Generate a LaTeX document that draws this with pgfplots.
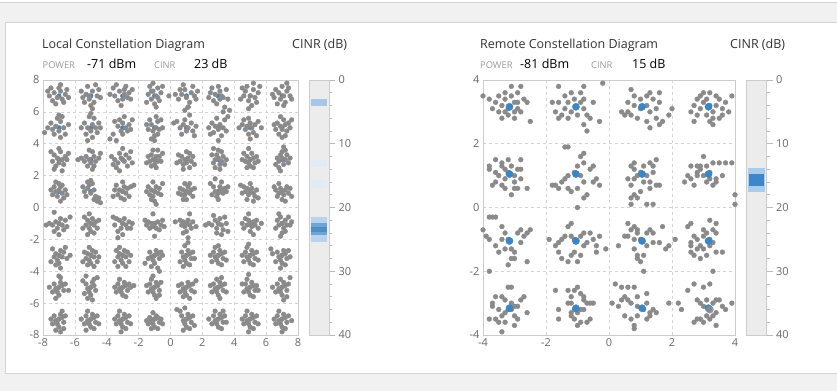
\documentclass[border=0pt]{standalone}
\usepackage{fontspec}
\setmainfont{Open Sans}
\usepackage{pgfplots}
\pgfplotsset{compat=1.18}
\definecolor{bg}{HTML}{F1F1F1}
\definecolor{cardline}{HTML}{D4D4D4}
\definecolor{dotgray}{HTML}{8A8A8A}
\definecolor{dotblue}{HTML}{3A85C5}
\definecolor{gridc}{HTML}{D4D4D4}
\definecolor{framec}{HTML}{CCCCCC}
\definecolor{tickc}{HTML}{BBBBBB}
\definecolor{ticklab}{HTML}{6A6A6A}
\definecolor{barbg}{HTML}{ECECEC}
\definecolor{titlec}{HTML}{333333}
\definecolor{capc}{HTML}{999999}
\definecolor{bandA}{HTML}{A8C7E6}
\definecolor{bandF}{HTML}{E2EBF5}
\definecolor{bandL}{HTML}{B9D3EE}
\definecolor{bandM}{HTML}{6FA4D6}
\definecolor{bandD}{HTML}{4F8DC9}
\definecolor{rbandL}{HTML}{A9CCEE}
\definecolor{rbandD}{HTML}{3E86C8}
\pgfplotsset{
  constell/.style={
    scale only axis, height=255pt, anchor=south west,
    axis line style={draw=framec},
    grid=major, major grid style={draw=gridc, dash pattern=on 3pt off 3pt, line width=0.6pt},
    major tick length=0pt,
    tick label style={font=\fontsize{11}{12}\selectfont, text=ticklab},
  },
  cinrbar/.style={
    scale only axis, width=20pt, height=255pt, anchor=south west,
    xmin=0, xmax=1, ymin=0, ymax=40, y dir=reverse,
    xtick=\empty, ytick={0,10,20,30,40}, yticklabels={0,10,20,30,40},
    minor ytick={2,4,...,38},
    ytick pos=right, tick align=outside,
    major tick length=6pt, minor tick length=3pt,
    tick style={draw=tickc, line width=0.6pt},
    minor tick style={draw=tickc, line width=0.6pt},
    axis line style={draw=framec},
    axis background/.style={fill=barbg},
    tick label style={font=\fontsize{11}{12}\selectfont, text=ticklab},
  },
  gdot/.style={only marks, mark=*, color=dotgray},
  bdot/.style={only marks, mark=*, color=dotblue},
}
\begin{document}
\begin{tikzpicture}
\path[use as bounding box, fill=bg] (0pt,0pt) rectangle (837pt,391pt);
\fill[white] (0pt,388.5pt) rectangle (837pt,391pt);
\draw[cardline, line width=0.8pt] (0pt,388.5pt) -- (837pt,388.5pt);
\filldraw[fill=white, draw=cardline, line width=0.8pt] (5pt,17.7pt) rectangle (840pt,368.3pt);

% titles
\node[anchor=base west, inner sep=0pt, text=titlec, font=\fontsize{12.5}{14}\selectfont] at (42pt,342pt) {Local Constellation Diagram};
\node[anchor=base west, inner sep=0pt, text=titlec, font=\fontsize{12.5}{14}\selectfont] at (292pt,342pt) {CINR (dB)};
\node[anchor=base west, inner sep=0pt, text=capc, font=\fontsize{9.3}{11}\selectfont] at (42.5pt,322.7pt) {POWER};
\node[anchor=base west, inner sep=0pt, text=black, font=\fontsize{12.5}{14}\selectfont] at (87pt,322.7pt) {-71 dBm};
\node[anchor=base west, inner sep=0pt, text=capc, font=\fontsize{9.3}{11}\selectfont] at (154pt,322.7pt) {CINR};
\node[anchor=base west, inner sep=0pt, text=black, font=\fontsize{12.5}{14}\selectfont] at (194pt,322.7pt) {23 dB};

\node[anchor=base west, inner sep=0pt, text=titlec, font=\fontsize{12.5}{14}\selectfont] at (480pt,342pt) {Remote Constellation Diagram};
\node[anchor=base west, inner sep=0pt, text=titlec, font=\fontsize{12.5}{14}\selectfont] at (730pt,342pt) {CINR (dB)};
\node[anchor=base west, inner sep=0pt, text=capc, font=\fontsize{9.3}{11}\selectfont] at (480pt,322.7pt) {POWER};
\node[anchor=base west, inner sep=0pt, text=black, font=\fontsize{12.5}{14}\selectfont] at (520pt,322.7pt) {-81 dBm};
\node[anchor=base west, inner sep=0pt, text=capc, font=\fontsize{9.3}{11}\selectfont] at (591pt,322.7pt) {CINR};
\node[anchor=base west, inner sep=0pt, text=black, font=\fontsize{12.5}{14}\selectfont] at (632pt,322.7pt) {15 dB};

% ---------------- Local constellation
\begin{axis}[constell, at={(43pt,56pt)}, width=255pt,
  xmin=-8, xmax=8, ymin=-8, ymax=8,
  xtick={-8,-6,-4,-2,0,2,4,6,8}, ytick={-8,-6,-4,-2,0,2,4,6,8},
  xticklabels={-8,-6,-4,-2,0,2,4,6,8}, yticklabels={-8,-6,-4,-2,0,2,4,6,8}]
\addplot[bdot, mark size=2.3pt] coordinates {
(-7,7)(-5,7)(-3,7)(-1,7)(1,7)(3,7)(5,7)(7,7)
(-7,5)(-5,5)(-3,5)(-1,5)(1,5)(3,5)(5,5)(7,5)
(-7,3)(-5,3)(-3,3)(-1,3)(1,3)(3,3)(5,3)(7,3)
(-7,1)(-5,1)(-3,1)(-1,1)(1,1)(3,1)(5,1)(7,1)
(-7,-1)(-5,-1)(-3,-1)(-1,-1)(1,-1)(3,-1)(5,-1)(7,-1)
(-7,-3)(-5,-3)(-3,-3)(-1,-3)(1,-3)(3,-3)(5,-3)(7,-3)
(-7,-5)(-5,-5)(-3,-5)(-1,-5)(1,-5)(3,-5)(5,-5)(7,-5)
(-7,-7)(-5,-7)(-3,-7)(-1,-7)(1,-7)(3,-7)(5,-7)(7,-7)
};
\addplot[gdot, mark size=2.35pt] coordinates {
(-7.6,7.0)(-7.3,7.2)(-7.1,6.9)(-6.9,7.3)(-6.6,7.1)(-7.4,6.7)(-6.8,6.8)(-7.0,7.5)(-6.5,7.4)(-7.7,7.3)(-7.2,6.5)(-6.4,6.9)(-6.9,7.7)(-7.5,7.5)(-6.7,6.6)
(-5.3,7.1)(-4.9,7.3)(-5.1,6.8)(-4.6,7.0)(-5.5,6.9)(-4.8,6.6)(-5.2,7.6)(-4.5,7.4)(-5.6,7.3)(-5.0,6.4)(-4.7,7.7)(-5.4,6.6)(-4.4,6.9)(-5.1,7.0)(-4.9,6.2)
(-3.5,7.0)(-3.2,7.3)(-2.9,7.1)(-3.0,6.8)(-2.6,7.2)(-3.6,7.5)(-2.7,6.9)(-3.3,6.7)(-2.4,7.4)(-3.8,7.1)(-2.8,7.6)(-3.1,6.4)(-2.5,6.8)(-3.4,7.7)(-2.9,7.4)
(-1.1,7.3)(-0.9,7.0)(-1.2,6.8)(-0.8,7.5)(-1.0,6.5)(-1.3,7.6)(-0.6,7.2)(-1.4,7.1)(-0.7,6.7)(-1.1,7.8)(-0.9,6.3)(-1.5,6.6)(-0.5,7.6)(-1.2,7.3)(-0.8,6.9)
(0.7,7.1)(1.0,6.9)(1.3,7.2)(0.9,7.4)(1.5,7.0)(0.5,6.8)(1.2,6.6)(0.3,7.1)(1.7,7.3)(0.8,7.7)(1.1,6.3)(0.6,7.4)(1.4,7.6)(-0.1,7.0)(1.6,6.8)
(2.8,7.1)(3.1,7.3)(3.3,6.9)(2.7,6.7)(3.5,7.4)(2.5,7.2)(3.0,7.6)(3.6,6.8)(2.9,6.5)(3.2,7.0)(2.4,6.9)(3.4,6.3)(3.7,6.1)(2.6,7.5)(3.1,6.8)
(4.7,7.3)(5.0,7.0)(5.2,7.4)(4.9,6.7)(5.3,6.9)(4.6,7.0)(5.5,7.2)(4.8,7.6)(5.1,6.4)(4.5,7.5)(5.4,6.6)(5.6,7.6)(4.9,6.2)(5.2,7.8)(4.4,6.8)
(6.8,7.2)(7.1,7.0)(7.3,7.3)(6.9,6.8)(7.2,6.6)(6.6,7.4)(7.5,7.0)(7.0,7.6)(6.7,6.5)(7.4,7.5)(6.4,7.1)(7.6,6.8)(7.1,6.4)(6.5,6.9)(7.3,7.8)
(-7.2,5.1)(-6.9,5.4)(-7.0,4.8)(-6.7,5.0)(-7.3,4.6)(-6.8,5.7)(-7.5,5.3)(-6.6,4.6)(-7.1,5.6)(-6.9,4.4)(-7.7,5.0)(-6.4,5.2)(-7.4,4.9)(-7.9,4.7)(-7.0,5.8)
(-5.2,5.0)(-4.9,5.2)(-5.0,4.8)(-4.7,5.0)(-5.4,5.3)(-4.8,5.6)(-5.3,4.6)(-4.6,4.7)(-5.1,5.7)(-4.5,5.3)(-5.6,5.0)(-4.9,4.4)(-5.2,4.2)(-5.0,5.9)(-4.4,5.0)
(-3.3,5.1)(-3.0,5.3)(-2.8,5.0)(-3.1,4.8)(-2.6,5.2)(-3.5,5.4)(-2.7,4.8)(-3.2,5.5)(-2.5,4.9)(-3.6,4.6)(-3.8,4.3)(-3.4,4.2)(-2.4,5.5)(-3.0,4.6)(-2.9,5.7)
(-1.2,5.2)(-0.9,5.0)(-1.1,4.8)(-0.8,5.4)(-1.3,5.5)(-0.7,4.9)(-1.0,4.5)(-1.4,4.9)(-0.6,5.5)(-1.2,4.3)(-0.9,5.7)(-1.5,5.2)(-0.5,5.0)(-1.0,4.2)(-0.8,4.6)
(0.8,5.2)(1.1,5.0)(1.0,4.8)(1.3,5.3)(0.6,5.0)(1.4,4.8)(0.9,5.5)(0.4,5.4)(1.6,5.1)(0.7,4.6)(1.2,5.8)(0.2,5.3)(1.5,4.5)(0.9,6.1)(1.1,6.3)
(2.8,5.1)(3.1,5.2)(3.0,4.9)(3.3,5.0)(2.6,5.3)(3.4,5.5)(2.7,4.7)(3.5,4.8)(2.9,5.6)(3.2,4.5)(2.4,5.0)(3.6,5.7)(3.0,4.2)(3.3,6.0)(2.5,4.6)
(4.8,5.1)(5.1,5.0)(5.0,5.3)(4.7,4.9)(5.3,5.2)(4.5,5.2)(5.2,4.7)(4.9,5.6)(5.5,5.4)(4.3,5.0)(5.4,4.5)(5.0,4.3)(4.6,5.5)(5.7,5.0)(4.9,4.6)
(6.9,5.1)(7.2,5.2)(7.0,4.9)(6.7,5.3)(7.3,4.8)(6.6,4.9)(7.1,5.5)(7.4,5.3)(6.8,4.6)(7.5,5.0)(6.5,5.2)(7.2,4.5)(6.9,5.7)(7.6,5.5)(7.0,4.4)
(-7.1,3.1)(-6.8,3.0)(-7.0,2.8)(-7.3,3.3)(-6.9,3.5)(-6.6,3.2)(-7.2,2.6)(-6.7,2.7)(-7.4,2.9)(-6.5,3.0)(-7.0,3.7)(-7.3,2.4)(-6.8,2.3)(-6.4,3.4)(-7.5,3.5)
(-5.1,3.0)(-4.8,3.2)(-5.0,2.8)(-5.3,3.2)(-4.7,2.9)(-5.4,2.9)(-4.9,3.5)(-5.2,2.6)(-4.5,3.1)(-5.6,3.1)(-4.8,2.6)(-5.1,3.6)(-4.4,3.4)(-5.8,3.0)(-4.9,2.4)
(-3.1,3.1)(-2.9,2.9)(-3.3,2.8)(-2.8,3.3)(-3.2,3.4)(-3.5,3.0)(-2.6,3.1)(-3.6,2.7)(-3.0,3.7)(-2.7,2.6)(-3.4,2.5)(-2.5,3.5)(-3.7,3.2)(-2.4,2.8)(-3.2,2.3)
(-1.1,3.0)(-0.9,3.2)(-1.2,3.3)(-0.8,2.9)(-1.0,2.7)(-1.3,2.9)(-0.7,3.2)(-1.1,3.6)(-0.6,2.9)(-1.4,3.2)(-0.9,2.5)(-1.2,2.6)(-0.5,3.4)(-0.8,3.6)(-1.5,2.8)
(0.9,3.0)(1.1,3.1)(1.0,2.8)(0.7,3.2)(1.3,2.9)(0.8,2.7)(1.2,3.4)(0.6,2.9)(1.4,3.2)(1.0,3.5)(0.5,3.3)(1.5,2.7)(0.8,2.4)(1.2,2.5)(0.4,2.8)
(3.0,3.1)(2.8,3.0)(3.2,2.9)(2.9,3.3)(3.1,2.7)(2.7,2.8)(3.3,3.2)(3.0,3.6)(2.6,3.3)(3.4,2.7)(3.2,3.5)(2.8,2.5)(3.5,3.0)(2.7,3.7)(3.1,2.4)
(5.0,3.0)(4.8,3.2)(5.2,3.1)(4.9,2.8)(5.1,3.4)(4.7,2.9)(5.3,2.8)(4.6,3.4)(5.0,2.6)(5.4,3.2)(4.5,3.0)(5.2,2.5)(4.8,2.5)(5.5,2.9)(4.9,3.7)
(7.0,3.1)(6.8,2.9)(7.2,3.0)(6.9,3.3)(7.1,2.7)(7.3,3.3)(6.7,3.1)(7.0,3.5)(6.6,2.7)(7.4,2.8)(6.8,2.5)(7.2,3.6)(6.9,2.3)(7.5,3.1)(7.1,3.8)
(-7.0,1.1)(-6.8,0.9)(-7.2,1.0)(-6.9,1.3)(-7.1,0.7)(-7.3,1.3)(-6.6,1.1)(-7.0,1.5)(-6.7,0.6)(-7.4,0.8)(-6.9,0.4)(-7.2,1.6)(-6.5,0.8)(-7.5,1.1)(-6.8,1.4)
(-5.2,1.2)(-5.0,0.9)(-4.8,1.1)(-5.3,0.7)(-4.9,1.5)(-5.4,1.0)(-4.7,0.7)(-5.1,1.4)(-4.6,0.4)(-5.5,1.3)(-4.8,0.5)(-4.5,0.6)(-5.0,1.7)(-4.4,0.3)(-5.2,1.6)
(-3.0,1.0)(-2.8,0.9)(-3.2,1.1)(-2.9,1.3)(-3.3,0.8)(-2.7,1.2)(-3.1,0.6)(-3.5,1.1)(-2.6,0.7)(-3.4,1.4)(-2.9,0.5)(-2.5,1.3)(-3.6,0.7)(-2.3,1.4)(-3.0,1.6)
(-1.0,1.0)(-1.2,1.1)(-0.8,0.9)(-1.1,0.7)(-0.9,1.3)(-1.3,0.8)(-0.7,1.2)(-1.0,0.4)(-1.4,1.3)(-0.6,0.8)(-1.1,1.6)(-1.5,1.0)(-0.9,0.2)(-0.5,1.5)(-1.2,0.5)
(1.0,1.0)(0.8,1.1)(1.2,0.9)(0.9,0.8)(1.1,1.3)(0.7,0.8)(1.3,1.1)(0.9,1.5)(1.4,0.7)(0.6,1.2)(1.0,0.5)(1.2,1.5)(0.5,0.9)(1.5,1.2)(0.8,0.5)
(3.0,0.9)(2.8,1.0)(3.2,1.1)(2.9,0.7)(3.3,0.9)(2.7,1.3)(3.1,1.3)(3.4,1.2)(2.6,0.8)(3.5,1.0)(3.0,0.5)(2.5,1.5)(3.2,1.6)(2.8,1.8)(3.6,1.3)
(5.0,1.0)(4.8,1.2)(5.2,0.9)(4.9,0.8)(5.1,1.2)(4.7,1.0)(5.3,0.7)(4.6,1.3)(5.4,1.1)(4.8,0.5)(5.0,1.5)(4.5,0.9)(5.2,0.4)(5.5,0.6)(4.4,1.4)
(7.0,1.0)(6.8,0.9)(7.2,1.1)(6.9,1.2)(7.1,0.8)(6.6,1.1)(7.3,1.3)(6.7,0.7)(7.4,0.9)(7.0,0.5)(6.5,1.3)(7.5,1.2)(6.8,1.5)(7.2,0.4)(7.6,0.7)
(-7.0,-1.0)(-7.2,-0.9)(-6.8,-1.1)(-7.1,-1.3)(-6.9,-0.7)(-7.4,-1.1)(-6.6,-0.8)(-7.3,-1.5)(-6.7,-1.4)(-7.6,-1.0)(-6.5,-1.2)(-7.0,-1.7)(-7.8,-1.1)(-7.3,-0.3)(-6.3,-0.6)
(-5.0,-1.0)(-5.2,-0.8)(-4.8,-1.1)(-5.1,-1.3)(-4.9,-0.7)(-5.3,-1.1)(-4.7,-0.9)(-5.0,-1.5)(-5.4,-0.6)(-4.6,-1.3)(-5.2,-1.7)(-4.8,-1.6)(-5.5,-1.3)(-4.5,-0.8)(-5.1,-0.4)
(-3.0,-1.0)(-3.2,-0.8)(-2.8,-1.1)(-3.1,-1.3)(-2.9,-0.7)(-3.4,-0.7)(-2.7,-1.3)(-3.3,-1.5)(-2.6,-0.9)(-3.5,-1.1)(-2.5,-1.3)(-3.0,-1.7)(-3.3,-1.9)(-2.4,-1.0)(-3.6,-0.6)
(-1.0,-1.0)(-1.2,-1.0)(-0.8,-0.9)(-1.1,-1.2)(-0.9,-1.3)(-1.4,-0.9)(-0.6,-1.1)(-1.3,-1.3)(-0.7,-1.4)(-1.5,-1.1)(-0.5,-0.8)(-1.1,-0.4)(-1.6,-0.8)(-0.4,-1.2)(-1.0,-1.8)
(1.0,-1.0)(0.8,-0.9)(1.2,-1.1)(0.9,-1.2)(1.1,-0.8)(0.7,-1.1)(1.3,-1.3)(0.6,-0.8)(1.0,-1.5)(1.4,-0.9)(0.8,-1.6)(1.2,-0.4)(0.3,-0.9)(1.6,-1.2)(1.1,-1.9)
(3.0,-1.0)(2.8,-0.8)(3.2,-1.1)(2.9,-1.3)(3.1,-0.7)(2.6,-1.1)(3.3,-1.4)(2.7,-0.5)(3.5,-1.0)(2.4,-1.0)(3.2,-1.7)(2.2,-1.1)(3.6,-1.5)(2.9,-1.6)(3.4,-0.6)
(5.0,-1.0)(4.8,-1.1)(5.2,-0.9)(4.9,-0.8)(5.1,-1.2)(4.7,-0.7)(5.3,-1.1)(4.6,-1.3)(5.4,-0.8)(5.0,-1.5)(4.5,-1.0)(5.5,-1.3)(4.9,-0.4)(5.2,-1.7)(5.7,-1.0)
(7.0,-1.0)(7.2,-0.8)(6.8,-1.1)(7.1,-1.3)(6.9,-0.6)(7.3,-1.1)(6.7,-0.8)(7.0,-1.6)(7.4,-0.6)(6.6,-1.3)(7.5,-1.1)(6.8,-0.4)(7.2,-1.5)(7.6,-0.9)(6.9,-1.8)
(-7.0,-3.0)(-7.2,-2.9)(-6.8,-3.1)(-7.1,-3.3)(-6.9,-2.7)(-7.3,-3.1)(-6.7,-2.8)(-7.0,-3.5)(-7.4,-2.6)(-6.5,-3.2)(-7.2,-3.6)(-6.6,-2.5)(-7.5,-3.4)(-6.3,-3.0)(-6.9,-3.8)
(-5.0,-3.0)(-5.2,-2.9)(-4.8,-3.1)(-5.1,-3.3)(-4.9,-2.7)(-5.3,-3.2)(-4.7,-2.8)(-5.0,-3.5)(-5.4,-2.8)(-4.6,-3.4)(-5.2,-3.6)(-4.5,-3.1)(-5.5,-3.4)(-4.8,-3.7)(-5.1,-2.5)
(-3.0,-3.0)(-3.2,-2.9)(-2.8,-3.1)(-3.1,-3.3)(-2.9,-2.7)(-3.3,-3.1)(-2.7,-2.8)(-3.0,-3.5)(-3.4,-2.7)(-2.6,-3.4)(-3.2,-2.5)(-2.5,-3.0)(-3.5,-3.4)(-2.8,-3.7)(-3.3,-3.7)
(-1.0,-3.0)(-1.2,-3.1)(-0.8,-2.9)(-1.1,-3.3)(-0.9,-2.7)(-1.3,-2.8)(-0.7,-3.2)(-1.0,-3.5)(-1.4,-3.2)(-0.6,-2.8)(-1.2,-3.7)(-0.5,-3.0)(-1.6,-3.5)(-0.8,-3.8)(-0.7,-4.0)
(1.0,-3.0)(0.8,-3.1)(1.2,-2.9)(0.9,-3.3)(1.1,-2.7)(0.7,-2.8)(1.3,-3.2)(1.0,-3.5)(0.9,-2.4)(1.4,-2.8)(0.6,-3.4)(1.2,-3.6)(1.5,-3.2)(0.8,-3.7)(1.1,-2.2)
(3.0,-3.0)(2.8,-3.1)(3.2,-2.9)(2.9,-3.3)(3.1,-2.7)(2.7,-2.8)(3.3,-3.2)(3.0,-3.5)(2.6,-3.4)(3.4,-2.8)(2.8,-2.5)(3.2,-3.6)(2.5,-3.0)(3.5,-3.3)(3.0,-2.4)
(5.0,-3.0)(4.8,-3.1)(5.2,-2.9)(4.9,-3.3)(5.1,-2.7)(4.7,-2.8)(5.3,-3.2)(5.0,-3.5)(4.6,-3.4)(5.4,-2.8)(4.8,-2.5)(5.2,-3.6)(4.5,-3.0)(5.5,-3.3)(4.9,-2.3)
(7.0,-3.0)(6.8,-3.1)(7.2,-2.9)(6.9,-3.3)(7.1,-2.7)(6.7,-2.8)(7.3,-3.2)(7.0,-3.5)(6.6,-3.4)(7.4,-2.7)(6.4,-2.9)(7.2,-3.6)(6.3,-2.6)(7.5,-3.1)(6.9,-3.8)
(-7.0,-5.0)(-7.2,-5.1)(-6.8,-4.9)(-7.1,-5.3)(-6.9,-4.7)(-7.3,-4.8)(-6.7,-5.2)(-7.0,-5.5)(-7.4,-5.3)(-6.6,-4.8)(-6.4,-5.2)(-7.2,-5.7)(-6.9,-4.4)(-7.6,-5.0)(-7.0,-4.3)
(-5.0,-5.0)(-5.2,-5.1)(-4.8,-4.9)(-5.1,-5.3)(-4.9,-4.7)(-5.3,-4.8)(-4.7,-5.2)(-5.0,-5.5)(-5.4,-5.4)(-4.8,-4.5)(-5.2,-5.7)(-4.6,-4.4)(-5.5,-4.6)(-4.9,-5.8)(-5.3,-4.3)
(-3.0,-5.0)(-3.2,-5.1)(-2.8,-4.9)(-3.1,-5.3)(-2.9,-4.7)(-3.3,-4.8)(-2.7,-5.2)(-3.0,-5.5)(-3.4,-5.3)(-2.6,-4.8)(-3.2,-4.5)(-2.5,-5.0)(-3.5,-5.0)(-2.8,-5.6)(-2.3,-4.9)
(-1.0,-5.0)(-1.2,-5.1)(-0.8,-4.9)(-1.1,-5.3)(-0.9,-4.7)(-1.3,-4.8)(-0.7,-5.2)(-1.0,-5.5)(-1.4,-5.3)(-0.6,-4.7)(-1.2,-4.5)(-0.9,-5.7)(-1.5,-4.9)(-0.7,-5.5)(-1.1,-4.3)
(1.0,-5.0)(0.8,-5.1)(1.2,-4.9)(0.9,-5.3)(1.1,-4.7)(0.7,-4.8)(1.3,-5.2)(1.0,-5.5)(0.6,-5.3)(1.4,-4.8)(0.8,-5.6)(1.5,-5.3)(0.5,-4.9)(1.2,-5.7)(1.6,-4.6)
(3.0,-5.0)(2.8,-5.1)(3.2,-4.9)(2.9,-5.3)(3.1,-4.7)(2.7,-4.8)(3.3,-5.2)(3.0,-5.5)(2.6,-5.3)(3.4,-4.8)(2.9,-4.5)(3.2,-4.4)(2.5,-4.9)(3.5,-5.3)(3.1,-5.7)
(5.0,-5.0)(4.8,-5.1)(5.2,-4.9)(4.9,-5.3)(5.1,-4.7)(4.7,-4.8)(5.3,-5.2)(5.0,-5.5)(4.6,-5.3)(5.4,-4.9)(4.8,-4.5)(5.2,-5.6)(4.5,-4.8)(5.5,-5.2)(4.9,-4.2)
(7.0,-5.0)(6.8,-5.1)(7.2,-4.9)(6.9,-5.3)(7.1,-4.7)(6.7,-4.8)(7.3,-5.2)(7.0,-5.5)(6.6,-5.3)(7.4,-4.8)(6.9,-4.5)(7.3,-5.6)(6.4,-5.0)(7.5,-4.4)(7.1,-5.8)
(-7.0,-7.0)(-7.2,-7.1)(-6.8,-6.9)(-7.1,-7.3)(-6.9,-6.7)(-7.3,-6.8)(-6.7,-7.2)(-7.0,-7.5)(-7.4,-7.3)(-6.6,-6.8)(-7.2,-7.7)(-6.8,-6.5)(-7.5,-7.0)(-6.9,-7.8)(-6.7,-7.6)
(-5.0,-7.0)(-5.2,-7.1)(-4.8,-6.9)(-5.1,-7.3)(-4.9,-6.7)(-5.3,-6.8)(-4.7,-7.2)(-5.0,-7.5)(-5.4,-7.3)(-4.6,-6.8)(-5.2,-6.5)(-4.8,-7.6)(-5.6,-7.0)(-4.5,-7.3)(-5.3,-7.7)
(-3.0,-7.0)(-3.2,-7.1)(-2.8,-6.9)(-3.1,-7.3)(-2.9,-6.7)(-3.3,-6.8)(-2.7,-7.2)(-3.0,-7.5)(-3.4,-7.3)(-2.6,-6.8)(-3.2,-6.5)(-2.8,-7.6)(-3.5,-7.0)(-2.5,-7.3)(-3.1,-7.8)
(-1.0,-7.0)(-1.2,-7.1)(-0.8,-6.9)(-1.1,-7.3)(-0.9,-6.8)(-1.3,-6.9)(-0.7,-7.2)(-1.0,-7.5)(-1.4,-7.3)(-0.6,-7.0)(-1.2,-7.6)(-0.8,-7.6)(-1.5,-7.1)(-0.5,-7.3)(-1.1,-6.6)
(1.0,-7.0)(0.8,-7.1)(1.2,-6.9)(0.9,-7.3)(1.1,-6.7)(0.7,-6.8)(1.3,-7.2)(1.0,-7.5)(0.6,-6.5)(1.4,-6.8)(0.8,-7.7)(1.2,-7.6)(0.4,-6.4)(1.5,-7.4)(0.9,-6.3)
(3.0,-7.0)(2.8,-7.1)(3.2,-6.9)(2.9,-7.3)(3.1,-6.7)(2.7,-6.8)(3.3,-7.2)(3.0,-7.5)(2.6,-7.3)(3.4,-6.8)(2.8,-6.5)(3.2,-7.6)(2.4,-7.0)(3.5,-7.2)(3.3,-6.5)
(5.0,-7.0)(4.8,-7.1)(5.2,-6.9)(4.9,-7.3)(5.1,-6.7)(4.7,-6.8)(5.3,-7.2)(5.0,-7.5)(4.6,-7.3)(5.4,-6.8)(4.8,-6.5)(5.2,-7.6)(4.5,-7.0)(5.5,-7.3)(4.9,-7.8)
(7.0,-7.0)(6.8,-7.1)(7.2,-6.9)(6.9,-7.3)(7.1,-6.7)(6.7,-6.8)(7.3,-7.2)(7.0,-7.5)(6.6,-7.3)(7.4,-6.8)(6.8,-6.5)(7.2,-7.6)(6.5,-7.0)(7.6,-7.1)(7.0,-7.8)
};
\end{axis}

% ---------------- Local CINR bar
\begin{axis}[cinrbar, at={(309pt,56pt)}]
\addplot[fill=bandA, draw=none] coordinates {(0.08,3.0)(0.92,3.0)(0.92,4.0)(0.08,4.0)} -- cycle;
\addplot[fill=bandF, draw=none] coordinates {(0.08,12.5)(0.92,12.5)(0.92,13.6)(0.08,13.6)} -- cycle;
\addplot[fill=bandF, draw=none] coordinates {(0.08,15.7)(0.92,15.7)(0.92,17.0)(0.08,17.0)} -- cycle;
\addplot[fill=bandL, draw=none] coordinates {(0.08,21.5)(0.92,21.5)(0.92,25.4)(0.08,25.4)} -- cycle;
\addplot[fill=bandM, draw=none] coordinates {(0.08,22.4)(0.92,22.4)(0.92,24.3)(0.08,24.3)} -- cycle;
\addplot[fill=bandD, draw=none] coordinates {(0.08,23.0)(0.92,23.0)(0.92,23.8)(0.08,23.8)} -- cycle;
\end{axis}

% ---------------- Remote constellation
\begin{axis}[constell, at={(483pt,56pt)}, width=252pt,
  xmin=-4, xmax=4, ymin=-4, ymax=4,
  xtick={-4,-2,0,2,4}, ytick={-4,-2,0,2,4},
  xticklabels={-4,-2,0,2,4}, yticklabels={-4,-2,0,2,4}]
\addplot[gdot, mark size=2.4pt] coordinates {
(-3.3,3.4)(-3.1,3.5)(-2.9,3.3)(-3.4,3.2)(-3.5,3.0)(-3.0,3.0)(-2.8,3.0)(-3.2,2.9)(-3.4,2.8)(-3.6,3.3)(-3.1,3.8)(-2.9,3.6)(-2.7,3.4)(-2.6,3.3)(-3.0,2.8)(-3.3,3.6)(-3.7,3.1)(-2.5,2.7)(-3.2,3.1)(-2.9,3.1)(-4.0,3.5)(-3.5,3.5)(-2.8,3.8)(-3.0,3.3)(-3.3,3.0)(-3.8,3.4)
(-1.3,3.3)(-1.1,3.4)(-0.9,3.3)(-1.4,3.1)(-1.6,3.3)(-1.7,3.0)(-1.5,2.9)(-1.2,3.0)(-0.8,3.1)(-0.7,2.9)(-1.0,2.9)(-1.3,2.8)(-1.6,2.8)(-1.8,3.3)(-0.9,3.6)(-0.8,3.4)(-1.2,3.6)(-1.4,3.5)(-0.5,3.3)(-0.6,2.8)(-0.8,2.6)(-0.7,2.4)(-0.3,2.7)(-0.2,3.9)(-1.6,3.8)(-0.8,3.8)
(1.0,3.1)(1.2,3.2)(0.8,3.2)(0.6,3.0)(0.4,3.0)(0.5,2.9)(0.7,2.9)(1.3,3.0)(1.5,3.1)(1.6,3.3)(1.4,3.4)(1.2,3.5)(1.0,3.4)(0.8,3.5)(0.7,3.7)(1.3,3.6)(1.6,3.6)(1.5,2.8)(1.2,2.7)(1.3,2.5)(1.7,2.7)(1.6,2.6)(0.9,2.8)(1.9,2.9)(2.0,3.1)(0.6,3.3)
(3.2,3.2)(3.0,3.3)(3.4,3.2)(2.9,3.1)(3.1,2.9)(3.3,3.0)(3.6,3.1)(2.7,3.2)(2.8,2.9)(3.2,2.7)(3.3,2.6)(3.5,3.4)(3.7,3.3)(3.8,3.0)(3.9,3.5)(2.9,3.5)(3.0,3.6)(3.2,3.6)(2.6,3.0)(2.7,2.7)(3.5,2.8)(3.1,3.4)(3.6,2.9)(3.4,3.5)(2.8,3.4)(3.3,2.8)
(-3.2,1.1)(-3.0,1.0)(-3.3,0.9)(-3.4,1.3)(-3.1,1.3)(-2.9,1.2)(-3.5,1.0)(-3.6,0.8)(-3.7,0.7)(-3.3,0.6)(-3.0,0.6)(-2.9,0.6)(-3.1,0.4)(-2.8,0.9)(-2.8,1.5)(-3.2,1.5)(-3.6,1.5)(-3.8,1.3)(-3.8,1.2)(-2.6,0.6)(-3.4,1.4)(-3.0,0.8)(-3.6,1.1)(-3.3,1.2)(-2.8,1.2)(-3.4,0.7)
(-1.1,1.1)(-0.9,1.0)(-1.3,1.0)(-1.4,0.9)(-1.5,0.8)(-1.6,0.6)(-1.8,0.7)(-1.7,0.7)(-1.2,0.5)(-1.0,0.6)(-0.8,0.8)(-0.8,1.4)(-0.9,1.6)(-0.8,1.7)(-1.0,1.3)(-0.6,1.2)(-0.5,1.3)(-0.5,0.8)(-0.4,0.9)(-0.3,0.7)(-0.7,0.4)(-0.8,0.3)(-1.0,0.0)(-1.3,0.6)(-1.4,1.9)(-1.3,1.9)
(1.0,1.1)(0.8,1.2)(0.7,1.3)(0.8,1.4)(1.1,1.3)(1.3,1.4)(1.4,1.3)(1.5,1.5)(1.4,1.1)(1.2,1.0)(0.9,1.0)(0.8,0.9)(0.6,0.9)(0.7,0.7)(1.1,0.8)(1.3,0.8)(1.5,0.7)(1.6,0.7)(1.3,0.6)(1.0,0.5)(0.8,0.4)(0.7,0.3)(0.9,0.3)(1.2,0.1)(1.4,0.1)(0.7,0.1)
(3.2,1.1)(3.0,1.0)(2.8,1.0)(2.6,0.9)(2.5,1.0)(2.4,0.8)(2.7,0.7)(2.9,1.2)(3.1,1.3)(2.8,1.3)(3.3,1.4)(3.5,1.4)(3.7,1.4)(3.0,1.6)(3.4,0.9)(3.6,1.0)(3.1,0.8)(3.3,0.7)(3.4,0.8)(3.9,1.4)(4.0,0.4)(4.0,0.1)(2.9,1.3)(2.6,1.3)(3.2,0.9)(2.8,1.1)
(-3.2,-1.0)(-3.3,-0.8)(-3.4,-0.6)(-3.6,-0.3)(-3.8,-0.3)(-3.7,-0.3)(-3.9,-0.9)(-3.8,-1.0)(-3.6,-1.2)(-3.5,-1.4)(-3.3,-1.3)(-3.1,-1.3)(-3.0,-1.4)(-3.1,-1.6)(-3.2,-1.8)(-3.0,-1.6)(-2.9,-0.8)(-2.8,-0.7)(-2.7,-0.9)(-2.6,-0.8)(-2.8,-1.1)(-2.5,-0.7)(-2.6,-1.7)(-4.0,-0.7)(-3.8,-2.0)(-3.4,-1.0)
(-1.1,-1.0)(-0.9,-0.9)(-0.8,-0.8)(-1.2,-0.9)(-1.4,-0.9)(-1.5,-1.0)(-1.6,-1.1)(-1.7,-1.2)(-1.6,-1.4)(-1.5,-1.6)(-1.3,-1.7)(-1.2,-1.5)(-1.1,-1.4)(-0.9,-1.5)(-0.8,-1.2)(-0.7,-1.1)(-0.5,-1.0)(-0.4,-1.2)(-0.6,-0.8)(-0.3,-0.9)(-1.2,-0.5)(-1.3,-0.6)(-1.0,-1.7)(-1.9,-1.0)(-0.4,-1.4)(-0.1,-1.3)
(1.0,-1.0)(0.8,-1.0)(0.6,-0.9)(0.5,-0.9)(0.7,-0.7)(0.9,-0.8)(1.2,-0.8)(1.4,-0.8)(1.7,-0.6)(1.4,-1.1)(1.6,-1.1)(1.8,-1.3)(1.9,-1.2)(1.2,-1.2)(1.1,-1.5)(0.9,-1.5)(0.9,-1.6)(1.0,-1.7)(1.1,-2.0)(0.8,-1.3)(0.6,-0.5)(0.8,-0.6)(0.3,-1.2)(2.1,-1.0)(1.3,-0.7)(0.9,-0.7)
(3.2,-1.0)(3.0,-0.9)(3.1,-0.8)(3.3,-0.7)(3.4,-0.5)(3.2,-0.4)(2.8,-1.0)(2.7,-0.9)(2.6,-1.1)(2.9,-1.2)(3.0,-1.3)(3.2,-1.2)(3.3,-1.1)(3.4,-1.4)(3.6,-1.4)(3.1,-1.5)(2.9,-1.6)(2.8,-1.3)(2.6,-1.4)(2.5,-0.6)(2.6,-0.5)(2.6,-1.2)(3.3,-2.0)(2.7,-1.5)(3.0,-0.7)(3.4,-0.8)
(-3.2,-3.2)(-3.0,-3.1)(-3.1,-3.0)(-3.3,-2.9)(-3.4,-2.8)(-3.6,-2.8)(-3.7,-3.0)(-3.5,-3.2)(-3.4,-3.4)(-3.6,-3.5)(-3.8,-3.5)(-3.3,-3.3)(-3.0,-3.4)(-2.9,-3.1)(-2.8,-2.9)(-2.7,-2.8)(-3.1,-2.5)(-3.2,-2.5)(-2.9,-3.5)(-3.0,-3.7)(-3.5,-3.6)(-3.4,-3.9)(-2.6,-3.3)(-3.7,-3.1)(-3.1,-3.2)(-3.3,-3.6)
(-1.1,-3.2)(-0.9,-3.2)(-1.2,-3.0)(-1.3,-3.0)(-1.2,-2.8)(-1.3,-2.6)(-1.1,-2.6)(-1.0,-2.5)(-0.9,-2.7)(-0.8,-2.8)(-0.7,-3.0)(-0.6,-3.0)(-0.5,-3.0)(-0.8,-3.2)(-1.0,-3.3)(-1.2,-3.3)(-1.6,-3.2)(-1.7,-2.6)(-1.6,-3.5)(-1.1,-3.5)(-0.9,-3.6)(-1.0,-3.7)(-0.7,-3.6)(-0.6,-3.5)(-1.2,-3.4)(-0.8,-2.9)
(1.1,-3.2)(0.9,-3.1)(0.7,-3.0)(0.6,-2.9)(0.5,-2.8)(0.4,-2.9)(0.3,-3.1)(0.1,-3.0)(0.4,-2.5)(0.2,-2.4)(0.6,-2.5)(0.8,-2.5)(0.9,-2.8)(1.2,-2.7)(1.2,-3.0)(1.4,-3.2)(1.3,-3.3)(1.5,-3.3)(1.3,-3.4)(1.2,-3.5)(0.9,-3.4)(0.7,-3.5)(0.5,-3.4)(0.8,-3.7)(0.8,-3.8)(1.9,-3.0)
(3.0,-3.1)(2.9,-3.0)(2.8,-2.9)(3.1,-2.9)(3.3,-3.0)(3.4,-2.9)(3.5,-2.9)(3.6,-3.1)(3.7,-3.2)(3.4,-3.3)(3.3,-3.4)(3.2,-3.5)(3.0,-3.6)(2.9,-3.5)(2.8,-3.5)(2.7,-3.6)(3.1,-3.4)(3.4,-3.7)(2.5,-2.6)(2.7,-2.4)(3.0,-2.5)(2.3,-3.2)(2.2,-3.0)(3.9,-3.0)(3.2,-2.4)
};
\addplot[bdot, mark size=3.6pt] coordinates {
(-3.16,3.16)(-1.05,3.16)(1.05,3.16)(3.16,3.16)
(-3.16,1.05)(-1.05,1.05)(1.05,1.05)(3.16,1.05)
(-3.16,-1.05)(-1.05,-1.05)(1.05,-1.05)(3.16,-1.05)
(-3.16,-3.16)(-1.05,-3.16)(1.05,-3.16)(3.16,-3.16)
};
\addplot[gdot, mark size=3.7pt, opacity=0.85] coordinates {(3.2,-3.2)};
\end{axis}

% ---------------- Remote CINR bar
\begin{axis}[cinrbar, at={(746.5pt,56pt)}]
\addplot[fill=rbandL, draw=none] coordinates {(0.08,13.8)(0.92,13.8)(0.92,17.6)(0.08,17.6)} -- cycle;
\addplot[fill=rbandD, draw=none] coordinates {(0.12,14.7)(0.88,14.7)(0.88,16.6)(0.12,16.6)} -- cycle;
\end{axis}
\end{tikzpicture}
\end{document}
